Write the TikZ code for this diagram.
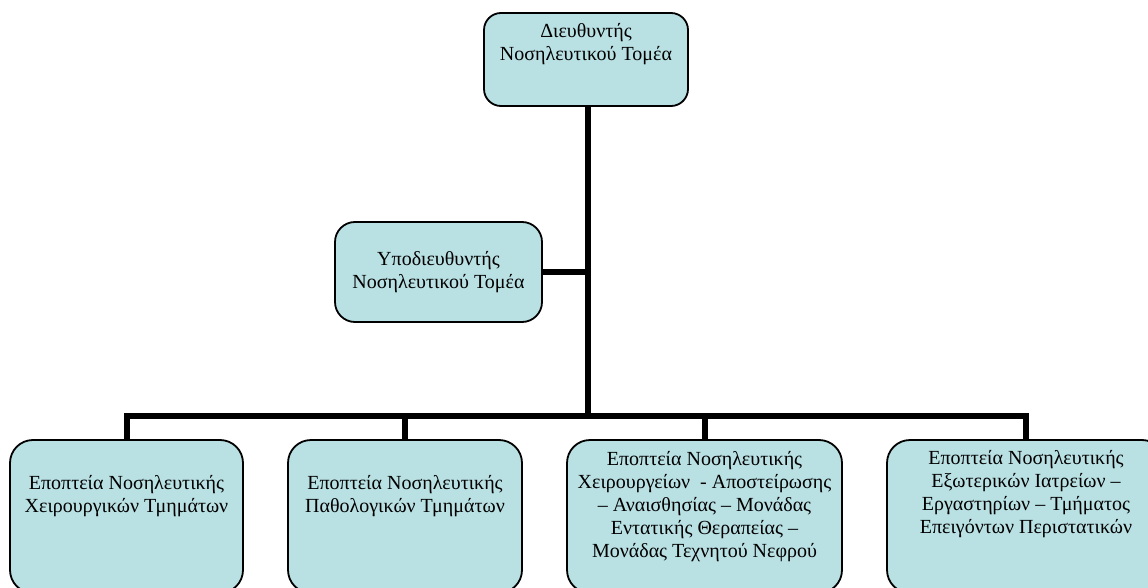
\documentclass[tikz,border=0pt]{standalone}
\usepackage{fontspec}
\setmainfont{Liberation Serif}
\definecolor{boxfill}{RGB}{185,224,227}
\begin{document}
\begin{tikzpicture}[x=1pt,y=-1pt,
  box/.style={draw=black,line width=1.8pt,fill=boxfill,rounded corners=#1,inner sep=0pt},
  box/.default=20pt,
  txt/.style={align=center,inner sep=0pt,font=\fontsize{20}{23}\selectfont},
  conn/.style={line width=6pt,line join=miter}]
\useasboundingbox (0,0) rectangle (1148,588);
\clip (0,0) rectangle (1148,588);
% boxes
\node[box=17pt,minimum width=204pt,minimum height=93pt] (top) at (586,59.5) {};
\node[txt] (ttop) at (586,44) {Διευθυντής\\Νοσηλευτικού Τομέα};
\node[box=20pt,minimum width=207pt,minimum height=100pt,txt] (mid) at (438.5,272) {Υποδιευθυντής\\Νοσηλευτικού Τομέα};
\node[box=23pt,minimum width=233pt,minimum height=153pt] (b1) at (126.5,516.5) {};
\node[box=23pt,minimum width=234pt,minimum height=153pt] (b2) at (405,516.5) {};
\node[box=23pt,minimum width=275pt,minimum height=153pt] (b3) at (704.5,516.5) {};
\node[box=23pt,minimum width=278pt,minimum height=153pt] (b4) at (1026,516.5) {};
\node[txt] (t1) at (126.5,496) {Εποπτεία Νοσηλευτικής\\Χειρουργικών Τμημάτων};
\node[txt] (t2) at (405,496) {Εποπτεία Νοσηλευτικής\\Παθολογικών Τμημάτων};
\node[txt] (t3) at (704.5,506.5) {Εποπτεία Νοσηλευτικής\\Χειρουργείων\ \ - Αποστείρωσης\\– Αναισθησίας – Μονάδας\\Εντατικής Θεραπείας –\\Μονάδας Τεχνητού Νεφρού};
\node[txt] (t4) at (1026,494) {Εποπτεία Νοσηλευτικής\\Εξωτερικών Ιατρείων –\\Εργαστηρίων – Τμήματος\\Επειγόντων Περιστατικών};
% connectors
\coordinate (bus) at (588,416);
\draw[conn] ([xshift=2pt]top.south) -- ([xshift=2pt]top.south |- bus);
\draw[conn] (mid.east) -- (mid.east -| bus);
\draw[conn] (b1.north) -- (b1.north |- bus) -| (b4.north);
\draw[conn] (b2.north) -- (b2.north |- bus);
\draw[conn] (b3.north) -- (b3.north |- bus);
\end{tikzpicture}
\end{document}
